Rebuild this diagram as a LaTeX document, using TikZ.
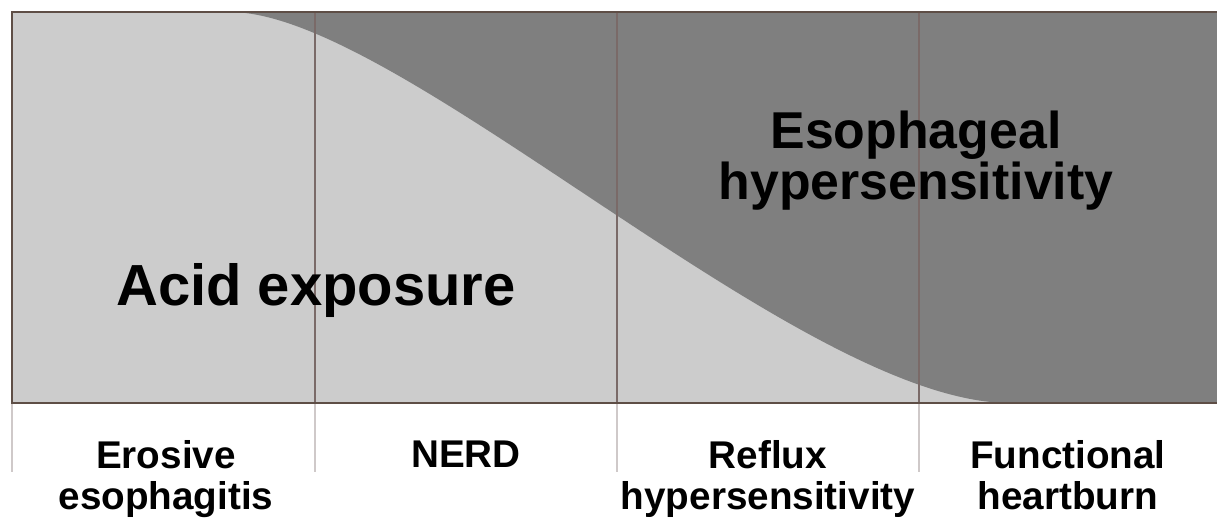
\documentclass[tikz,border=0pt]{standalone}
\usepackage{fontspec}
\setmainfont{Liberation Sans}

\definecolor{acidgray}{HTML}{CCCCCC}
\definecolor{hypergray}{HTML}{7F7F7F}
\definecolor{framebrown}{HTML}{5E4E46}
\definecolor{gridbrown}{HTML}{7A6A68}
\definecolor{ticklight}{HTML}{CFC9C9}

\tikzset{
  bigtext/.style={font=\bfseries\fontsize{33}{34}\selectfont, inner sep=0pt},
  midtext/.style={font=\bfseries\fontsize{29.5}{24}\selectfont, align=center, inner sep=0pt},
  cattext/.style={font=\bfseries\fontsize{22}{21}\selectfont, align=center, inner sep=0pt, anchor=base},
}

\begin{document}
\begin{tikzpicture}[x=0.02cm, y=-0.02cm]

\def\left{12}
\def\right{1217}
\def\top{12}
\def\bottom{403}
\def\tick{472}

\path [use as bounding box] (0,0) rectangle (1217,518);

% AREAS
\fill [acidgray] (\left,\top) rectangle (\right,\bottom);
\fill [hypergray] (230,\top) .. controls (400,\top) and (800,\bottom) .. (1010,\bottom)
	-- (\right,\bottom) -- (\right,\top) -- cycle;

% COLUMNS
\foreach \x in {315,617,919} {
	\draw [gridbrown, line width=0.9pt] (\x,\top) -- (\x,\bottom);
	\draw [ticklight, line width=0.9pt] (\x,\bottom) -- (\x,\tick);
}
\draw [ticklight, line width=0.9pt] (\left,\bottom) -- (\left,\tick);

% FRAME
\draw [framebrown, line width=1.3pt] (\right,\top) -- (\left,\top) -- (\left,\bottom) -- (\right,\bottom);

% TEXT
\node [bigtext, anchor=base] (acid) at (316,305) {Acid exposure};
\node [midtext, anchor=north] (hyper) at (916,111) {Esophageal\\hypersensitivity};

% categories (base = last line)
\node [cattext] (erosive) at (166,509) {Erosive\\[2pt]esophagitis};
\node [cattext] (nerd) at (466,467) {NERD};
\node [cattext] (reflux) at (768,509) {Reflux\\[2pt]hypersensitivity};
\node [cattext] (functional) at (1068,509) {Functional\\[2pt]heartburn};

\end{tikzpicture}
\end{document}
